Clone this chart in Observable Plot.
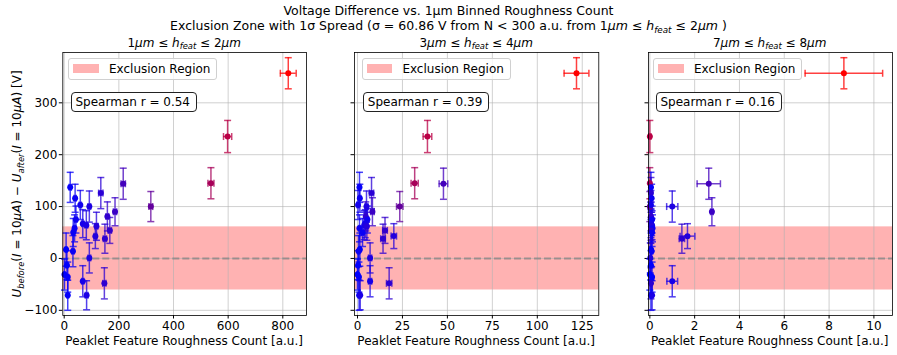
<!DOCTYPE html>
<html><head><meta charset="utf-8">
<script src="https://cdn.jsdelivr.net/npm/d3@7"></script>
<script src="https://cdn.jsdelivr.net/npm/@observablehq/plot@0.6"></script>
<style>
body{margin:0;background:#fff;font-family:"DejaVu Sans",sans-serif;}
#c{position:relative;width:897px;height:355px;overflow:hidden;background:#fff}
#c svg{position:absolute;top:0}
.t{position:absolute;white-space:nowrap;font-size:12px;color:#000;line-height:12px}
.sub{font-size:0.7em;position:relative;top:0.3em}
.box{position:absolute;box-sizing:border-box}
</style></head><body><div id="c"></div>
<script>
// ---- data ----
const sigma = 60.86;
const yVal = [357, 235, 145, 144, 100, 137, 126, 116, 103, 100, 90, 81, 75, 67, 64, 62, 58, 54, 50, 43, 38, 17, 14, 1, -13, -31, -36, -44, -48, -71, -71];
const yErr = [30, 31, 30, 30, 29, 29, 30, 27, 28, 30, 27, 28, 26, 27, 28, 27, 26, 25, 27, 24, 28, 32, 30, 29, 28, 30, 29, 30, 30, 29, 28];
// roughness counts per height bin (same samples in each panel)
const x1 = [820, 598, 537, 216, 317, 22, 134, 40, 59, 92, 186, 158, 43, 68, 81, 118, 38, 167, 33, 114, 149, 7, 32, 92, 10, 1, 13, 68, 147, 13, 82];
const xErr1 = [29, 15, 11, 8, 7, 4, 8, 4, 4, 5, 6, 5, 4, 4, 5, 5, 4, 6, 4, 5, 6, 3, 4, 5, 3, 2, 3, 4, 6, 3, 5];
const x2 = [121.8, 38.9, 31.8, 47.8, 23.5, 1.1, 7.8, 1.3, 0.3, 5.0, 8.3, 4.6, 5.5, 4.3, 3.7, 5.2, 1.1, 15.3, 2.8, 20.2, 14.2, 1.3, 0.6, 7.0, 0.3, 0.0, 0.8, 7.0, 17.6, 0.9, 1.5];
const xErr2 = [6.9, 2.4, 2.0, 2.4, 1.8, 0.6, 1.2, 0.6, 0.5, 0.8, 1.0, 0.8, 0.7, 0.7, 0.6, 0.8, 0.5, 1.3, 0.6, 1.5, 1.3, 0.5, 0.5, 0.9, 0.4, 0.3, 0.5, 0.9, 1.5, 0.5, 0.6];
const x3 = [8.66, 0.0, 0.0, 2.63, 0.0, 0.05, 0.05, 0.08, 0.05, 1.0, 2.77, 0.05, 0.1, 0.05, 0.1, 0.05, 0.12, 0.05, 0.1, 1.68, 1.43, 0.05, 0.08, 0.02, 0.05, 0.0, 0.1, 1.0, 0.05, 0.05, 0.1];
const xErr3 = [1.73, 0.05, 0.03, 0.52, 0.05, 0.03, 0.05, 0.03, 0.03, 0.25, 0.06, 0.03, 0.05, 0.03, 0.05, 0.03, 0.05, 0.03, 0.05, 0.33, 0.12, 0.03, 0.05, 0.02, 0.03, 0.02, 0.05, 0.24, 0.03, 0.03, 0.05];
const spearman = ["0.54", "0.39", "0.16"];
const binLo = [1, 3, 7], binHi = [2, 4, 8];
const xTicks = [[0, 200, 400, 600, 800], [0, 25, 50, 75, 100, 125], [0, 2, 4, 6, 8, 10]];
const yTicks = [-100, 0, 100, 200, 300];
const xDomains = [[-5.1, 886.7], [-1.67, 134.2], [-0.06, 10.83]];
const yDomain = [-110, 397];

// ---- layout ----
const C = document.getElementById("c");
const frames = [[62.3, 306], [354, 598.3], [647.7, 891.7]];
const legendLeft = [68.3, 361.7, 653.3];
const spearLeft = [71, 363.3, 656];
const H = 355, MT = 52, MB = 40;

const hCap = {draw(ctx, size){const r = Math.sqrt(size / Math.PI); ctx.moveTo(-r, 0); ctx.lineTo(r, 0);}};
const vCap = {draw(ctx, size){const r = Math.sqrt(size / Math.PI); ctx.moveTo(0, -r); ctx.lineTo(0, r);}};

function addText(html, x, baseline, anchor, extra) {
  const d = document.createElement("div");
  d.className = "t";
  d.innerHTML = html;
  d.style.top = (baseline - 10.2) + "px";
  d.style.left = x + "px";
  if (anchor === "middle") d.style.transform = "translateX(-50%)";
  if (extra) Object.assign(d.style, extra);
  C.appendChild(d);
  return d;
}

const xs = [x1, x2, x3], xes = [xErr1, xErr2, xErr3];
const colorScale = {type: "linear", domain: [0, 820], range: ["#0000ff", "#ff0000"], interpolate: "rgb"};

for (let p = 0; p < 3; p++) {
  const rows = yVal.map((y, i) => ({x: xs[p][i], xe: xes[p][i], y, ye: yErr[i], c: x1[i]}));
  const [fl, fr] = frames[p];
  const svgLeft = p === 0 ? 0 : fl - 24;
  const width = fr + 4 - svgLeft;
  const dom = xDomains[p];
  const barStyle = {stroke: "c", strokeWidth: 1.5, strokeOpacity: 0.75};
  const chart = Plot.plot({
    width, height: H,
    marginLeft: fl - svgLeft, marginRight: 4, marginTop: MT, marginBottom: MB,
    style: {fontFamily: "DejaVu Sans", fontSize: "12px", color: "#000", background: "transparent", overflow: "visible"},
    x: {domain: dom, ticks: xTicks[p], tickSize: 3.5, tickPadding: 2, label: null},
    y: {domain: yDomain, ticks: yTicks, tickSize: 3.5, tickPadding: 2, label: null,
        tickFormat: p === 0 ? (d => d < 0 ? "\u2212" + Math.abs(d) : String(d)) : (() => "")},
    color: colorScale,
    marks: [
      Plot.rect([sigma], {x1: dom[0], x2: dom[1], y1: d => -d, y2: d => d, fill: "#ff0000", fillOpacity: 0.3}),
      Plot.gridX(xTicks[p], {stroke: "#b0b0b0", strokeOpacity: 0.6, strokeWidth: 1}),
      Plot.gridY(yTicks, {stroke: "#b0b0b0", strokeOpacity: 0.6, strokeWidth: 1}),
      Plot.ruleY([0], {stroke: "gray", strokeOpacity: 0.7, strokeWidth: 2, strokeDasharray: "7,3"}),
      Plot.ruleX(rows, {x: "x", y1: d => d.y - d.ye, y2: d => d.y + d.ye, ...barStyle}),
      Plot.ruleY(rows, {y: "y", x1: d => d.x - d.xe, x2: d => d.x + d.xe, ...barStyle}),
      Plot.dot(rows, {x: "x", y: d => d.y - d.ye, symbol: hCap, r: 3.5, fill: "none", ...barStyle}),
      Plot.dot(rows, {x: "x", y: d => d.y + d.ye, symbol: hCap, r: 3.5, fill: "none", ...barStyle}),
      Plot.dot(rows, {x: d => d.x - d.xe, y: "y", symbol: vCap, r: 3.5, fill: "none", ...barStyle}),
      Plot.dot(rows, {x: d => d.x + d.xe, y: "y", symbol: vCap, r: 3.5, fill: "none", ...barStyle}),
      Plot.dot(rows, {x: "x", y: "y", r: 3, fill: "c", stroke: "none"}),
      Plot.frame({stroke: "#000", strokeWidth: 0.8})
    ]
  });
  chart.style.left = svgLeft + "px";
  C.appendChild(chart);

  // panel title
  const mu = "<i>μm</i>";
  addText(`${binLo[p]}${mu} ≤ <i>h</i><span class="sub"><i>feat</i></span> ≤ ${binHi[p]}${mu}`, (fl + fr) / 2, 47, "middle");
  // x label
  addText("Peaklet Feature Roughness Count [a.u.]", (fl + fr) / 2, 345, "middle");

  // legend
  const lg = document.createElement("div");
  lg.className = "box";
  Object.assign(lg.style, {left: legendLeft[p] + "px", top: "58.3px", width: "149px", height: "21.7px",
    border: "1px solid #d0d0d0", borderRadius: "3px", background: "rgba(255,255,255,0.8)"});
  C.appendChild(lg);
  const patch = document.createElement("div");
  patch.className = "box";
  Object.assign(patch.style, {left: (legendLeft[p] + 5) + "px", top: "64px", width: "25.7px", height: "9.3px", background: "rgba(255,0,0,0.3)"});
  C.appendChild(patch);
  addText("Exclusion Region", legendLeft[p] + 40.7, 73);

  // spearman box
  const sb = document.createElement("div");
  sb.className = "box";
  Object.assign(sb.style, {left: spearLeft[p] + "px", top: "92.3px", width: "125.7px", height: "19.4px",
    border: "1px solid #222", borderRadius: "4px", background: "#fff"});
  C.appendChild(sb);
  addText(`Spearman r = ${spearman[p]}`, spearLeft[p] + 4.5, 106.3);
}

// figure titles
addText("Voltage Difference vs. 1μm Binned Roughness Count", 448.5, 15, "middle", {fontSize: "12.5px"});
addText("Exclusion Zone with 1σ Spread (σ = 60.86 V from N &lt; 300 a.u. from 1<i>μm</i> ≤ <i>h</i><span class=\"sub\"><i>feat</i></span> ≤ 2<i>μm</i> )", 448.5, 30.5, "middle", {fontSize: "12.5px"});

// y label
const yl = addText("<i>U</i><span class=\"sub\"><i>before</i></span>(<i>I</i> = 10<i>μA</i>) − <i>U</i><span class=\"sub\"><i>after</i></span>(<i>I</i> = 10<i>μA</i>) [V]", 17, 183.5, null);
Object.assign(yl.style, {top: "183.5px", left: "17px", transform: "translate(-50%,-50%) rotate(-90deg)"});
</script></body></html>
